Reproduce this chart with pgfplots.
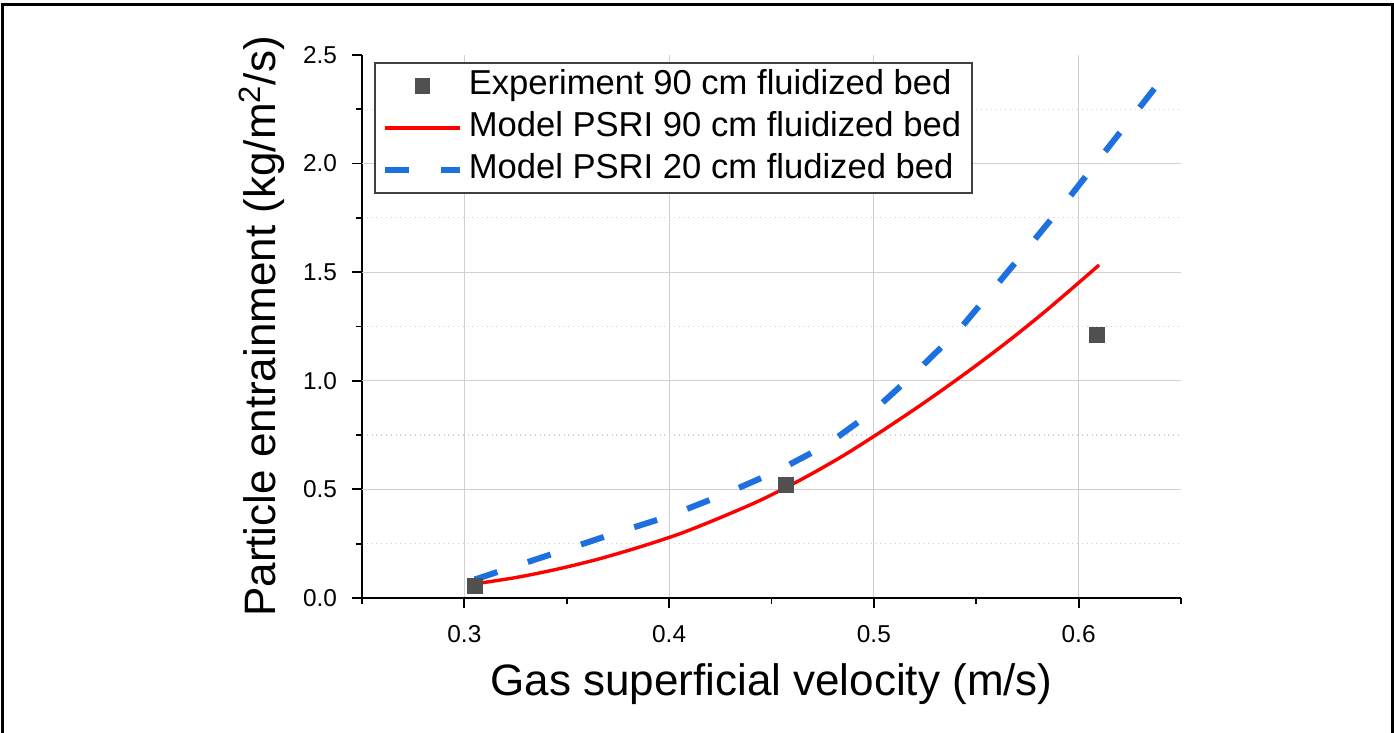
\documentclass[border=0pt]{standalone}
\usepackage{pgfplots}
\pgfplotsset{compat=1.18}
\usepackage{fontspec}
\setmainfont{Liberation Sans}
\definecolor{bl}{RGB}{28,112,224}
\definecolor{mk}{RGB}{80,80,80}
\definecolor{gridc}{RGB}{208,208,208}
\begin{document}
\begin{tikzpicture}
\useasboundingbox (-181pt,-67.5pt) rectangle (516pt,299pt);
\draw[line width=1.5pt] (-179.5pt,-67.5pt) -- (-179.5pt,296.5pt) -- (515pt,296.5pt) -- (515pt,-67.5pt);
\begin{axis}[
  width=409.5pt, height=271.5pt, scale only axis,
  xmin=0.25, xmax=0.65, ymin=0, ymax=2.5,
  axis x line*=bottom, axis y line*=left,
  axis line style={line width=0.9pt, black, -},
  xtick={0.3,0.4,0.5,0.6},
  minor xtick={0.25,0.35,0.45,0.55,0.65},
  ytick={0,0.5,1,1.5,2,2.5},
  minor ytick={0.25,0.75,1.25,1.75,2.25},
  tick align=outside,
  major tick length=5pt, minor tick length=3pt,
  every tick/.style={black, line width=0.9pt},
  xmajorgrids=true, yminorgrids=true,
  major grid style={gridc, line width=0.5pt},
  minor grid style={gridc, dotted, line width=0.6pt},
  extra y ticks={0.5,1,1.5,2},
  extra y tick labels={},
  extra y tick style={grid=major, major tick length=0pt},
  ticklabel style={font=\fontsize{12.2}{14}\selectfont},
  xticklabel style={yshift=-5pt},
  yticklabel style={xshift=-4pt},
  /pgf/number format/.cd, fixed, fixed zerofill, precision=1, assume math mode=true,
  /pgfplots/.cd,
  xlabel={Gas superficial velocity (m/s)},
  ylabel={Particle entrainment (kg/m\textsuperscript{2}/s)},
  label style={font=\fontsize{22}{26}\selectfont},
  xlabel style={at={(axis description cs:0.5,-0.158)}, anchor=center},
  ylabel style={at={(axis description cs:-0.122,0.5)}, anchor=center},
  legend style={at={(axis description cs:0.0147,0.987)}, anchor=north west,
    draw=black!75, line width=0.75pt, fill=white,
    font=\fontsize{17.3}{21}\selectfont,
    inner xsep=3.5pt, inner ysep=1pt, row sep=0pt,
    nodes={inner sep=2pt, text height=13pt, text depth=4pt},
    /tikz/every odd column/.append style={column sep=1pt}},
  legend cell align=left,
]
\addplot[only marks, mark=square*, mark size=3.75pt, mark options={fill=mk, draw=mk},
  legend image code/.code={\fill[mk] (15.25pt,-3.5pt) rectangle (22.25pt,3.5pt);}]
  coordinates {(0.305,0.055) (0.457,0.52) (0.609,1.21)};
\addlegendentry{Experiment 90 cm fluidized bed}
\addplot[red, line width=1.7pt, smooth,
  legend image code/.code={\draw[red, line width=1.7pt] (0pt,0pt) -- (37.5pt,0pt);}]
  coordinates {
  (0.305,0.065) (0.325,0.094) (0.345,0.132) (0.365,0.178) (0.385,0.233)
  (0.405,0.295) (0.425,0.370) (0.445,0.452) (0.465,0.548) (0.485,0.655)
  (0.505,0.775) (0.525,0.902) (0.545,1.036) (0.565,1.178) (0.585,1.330)
  (0.61,1.533)};
\addlegendentry{Model PSRI 90 cm fluidized bed}
\addplot[bl, line width=3pt, dash pattern=on 12pt off 16pt,
  legend image code/.code={\draw[bl, line width=3pt, dash pattern=on 12pt off 16pt] (0pt,0pt) -- (37.5pt,0pt);}]
  coordinates {
  (0.305,0.085) (0.344,0.206) (0.371,0.29) (0.399,0.374) (0.426,0.474)
  (0.452,0.581) (0.477,0.705) (0.4994,0.858) (0.52,1.035) (0.5416,1.234)
  (0.56,1.441) (0.579,1.656) (0.597,1.863) (0.6148,2.078) (0.6327,2.293)
  (0.637,2.345)};
\addlegendentry{Model PSRI 20 cm fludized bed}
\end{axis}
\end{tikzpicture}
\end{document}
